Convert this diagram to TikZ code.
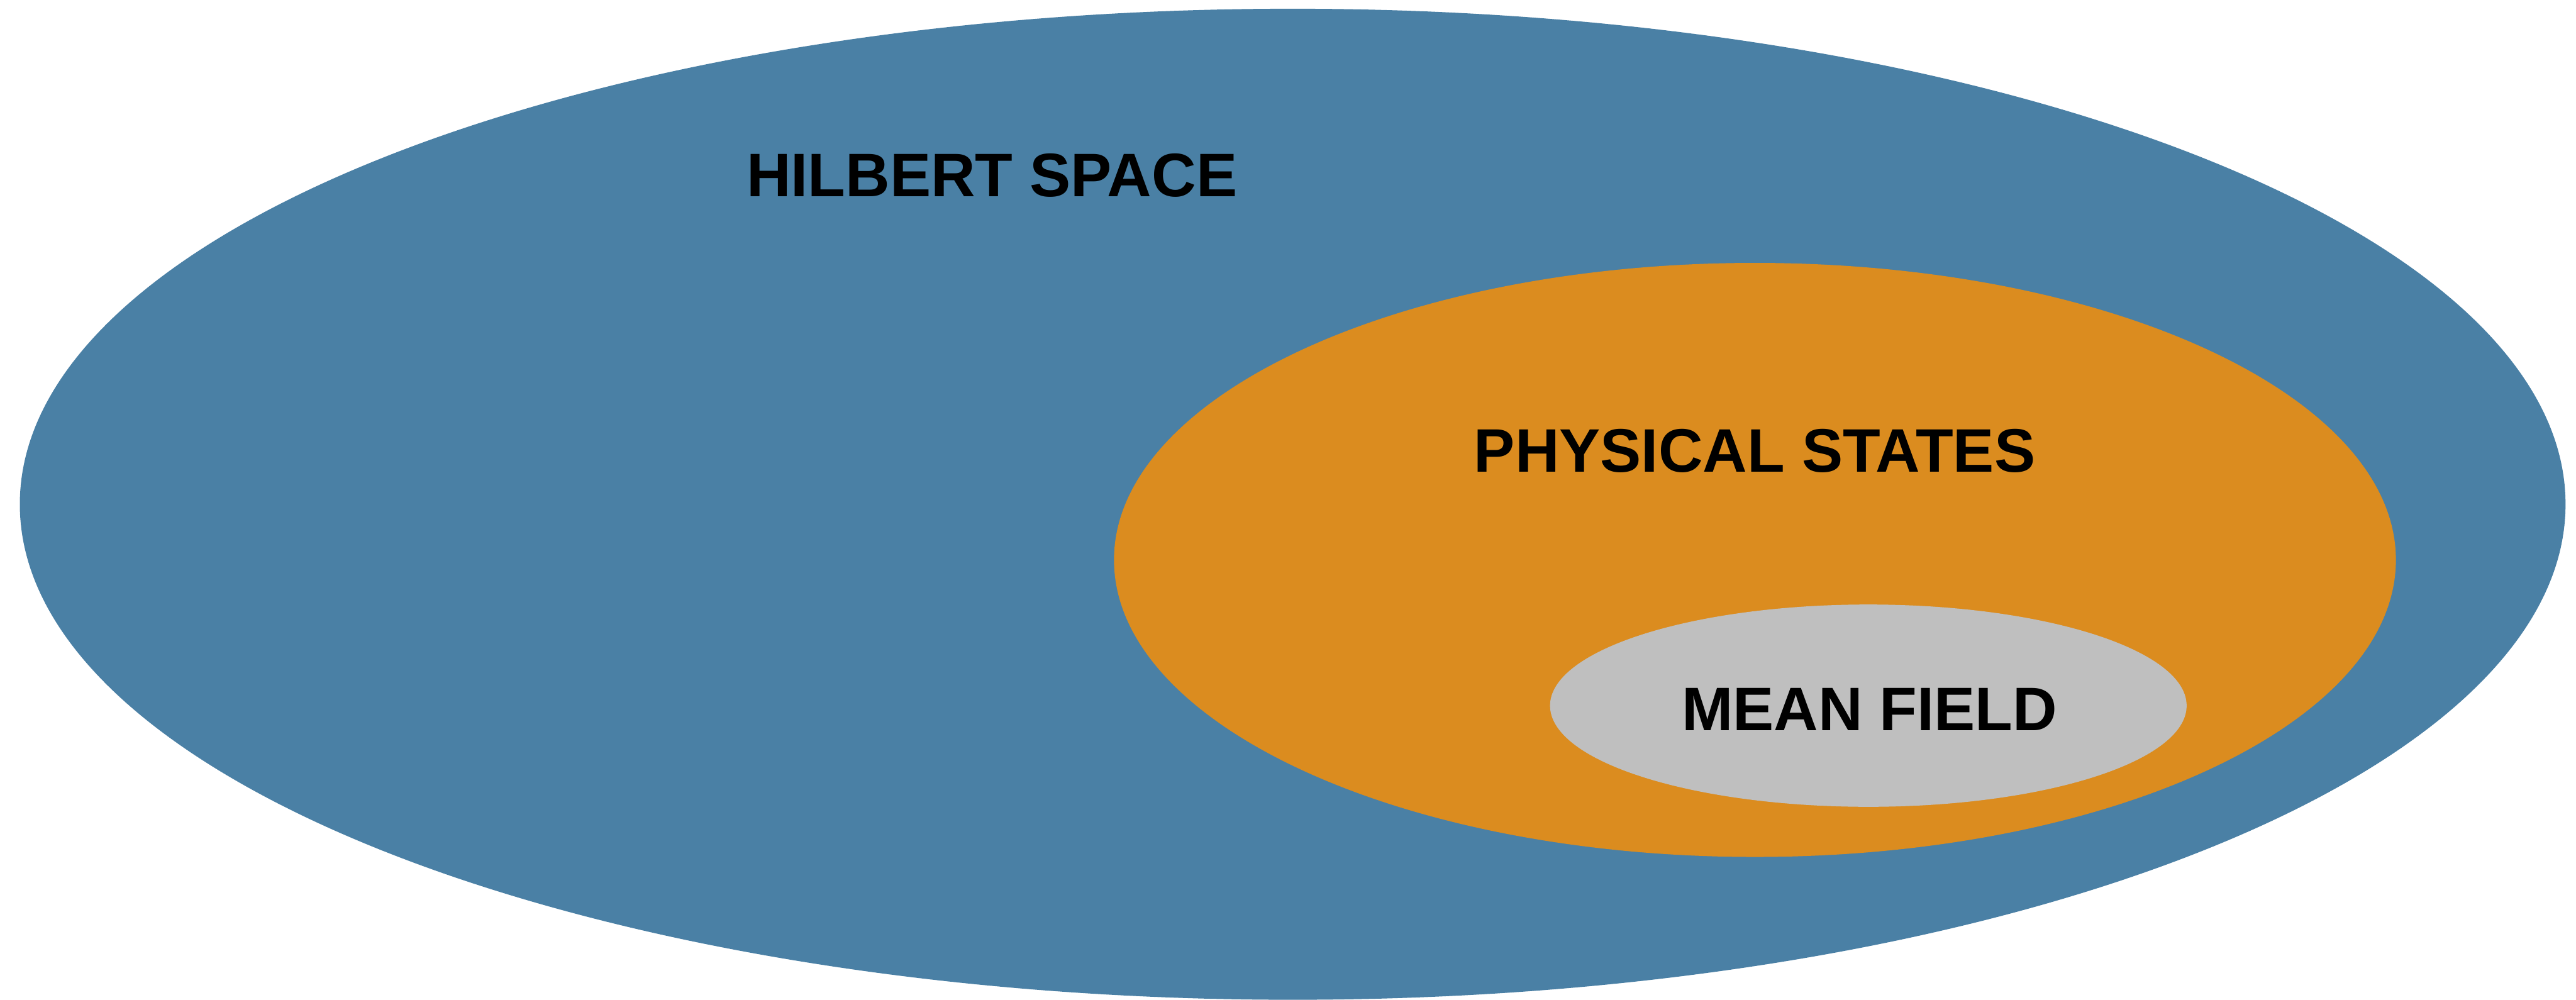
\documentclass[tikz,border=0pt]{standalone}
\usepackage{fontspec}
\setmainfont{Liberation Sans}
\usepackage{xcolor}
\usepackage{tikz}
\usetikzlibrary{shapes.geometric, positioning}

\definecolor{hilbertblue}{HTML}{4A80A5}
\definecolor{physorange}{HTML}{DB8C1F}
\definecolor{meangray}{HTML}{BFBFBF}

\begin{document}
\begin{tikzpicture}[
  region/.style={
    ellipse, draw=none, fill=#1,
    inner sep=0pt, outer sep=0pt},
  lbl/.style={font=\fontsize{30}{36}\selectfont\bfseries,
    text=black, anchor=base, inner sep=0pt}
]

%% ── CANVAS ───────────────────────────────────────────────
\fill[white] (0,0) rectangle (44.19,17.15);
\useasboundingbox (0,0) rectangle (44.19,17.15);

%% ── NESTED SETS ──────────────────────────────────────────
\node[region=hilbertblue, minimum width=43.67cm, minimum height=17.0cm]
      (hilbert) at (22.175,8.50) {};
\node[region=physorange, minimum width=21.99cm, minimum height=10.19cm]
      (physical) at (30.105,7.545) {};
\node[region=meangray, minimum width=10.92cm, minimum height=3.47cm]
      (meanfield) at (32.05,5.045) {};

%% Labels
\node[lbl] (hilbertlbl)  at (17.015,13.78) {HILBERT SPACE};
\node[lbl] (physlbl)     at (30.10,9.05)   {PHYSICAL STATES};
\node[lbl] (meanlbl)     at (32.07,4.62)   {MEAN FIELD};

\end{tikzpicture}
\end{document}
